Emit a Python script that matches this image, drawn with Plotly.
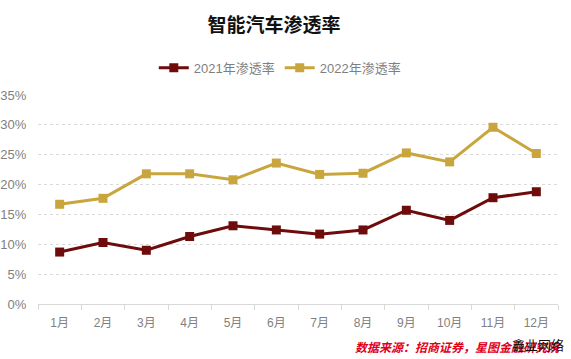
import plotly.graph_objects as go

months = ["1月", "2月", "3月", "4月", "5月", "6月", "7月", "8月", "9月", "10月", "11月", "12月"]
rate_2021 = [8.7, 10.3, 9.0, 11.3, 13.1, 12.4, 11.7, 12.4, 15.7, 14.0, 17.8, 18.8]
rate_2022 = [16.7, 17.7, 21.8, 21.8, 20.8, 23.6, 21.7, 21.9, 25.3, 23.8, 29.6, 25.2]
y_ticks = [0, 5, 10, 15, 20, 25, 30, 35]
y_labels = [f"{v}%" for v in y_ticks]

cjk = "Noto Sans CJK SC"
latin = "Liberation Sans, Noto Sans CJK SC"
fig = go.Figure()
fig.add_trace(go.Scatter(x=months, y=rate_2021, name="2021年渗透率", mode="lines+markers",
                         line=dict(color="#6E0B0B", width=3),
                         marker=dict(symbol="square", size=9, color="#6E0B0B")))
fig.add_trace(go.Scatter(x=months, y=rate_2022, name="2022年渗透率", mode="lines+markers",
                         line=dict(color="#C9A53E", width=3),
                         marker=dict(symbol="square", size=9, color="#C9A53E")))

fig.update_layout(
    width=571, height=359,
    margin=dict(l=38, r=13, t=95, b=55),
    paper_bgcolor="white", plot_bgcolor="white",
    font=dict(family=latin, color="#595959", size=12),
    title=dict(text="<b>智能汽车渗透率</b>", x=0.48, xanchor="center", y=0.93, yanchor="middle",
               font=dict(size=19, color="#111111", family=cjk)),
    legend=dict(orientation="h", x=0.465, xanchor="center", y=1.13, yanchor="middle",
                font=dict(size=13, color="#7F7F7F", family=latin), itemwidth=30),
    showlegend=True,
)
fig.update_xaxes(type="category", showgrid=False, showline=True, linecolor="#D9D9D9", linewidth=1,
                 ticks="outside", tickson="boundaries", ticklen=5, tickcolor="#D9D9D9",
                 tickfont=dict(size=12, color="#7F7F7F", family=latin), range=[-0.5, 11.5],
                 ticklabelstandoff=8, automargin=False)
fig.update_yaxes(range=[0, 35], tickvals=y_ticks, ticktext=y_labels, showgrid=True,
                 gridcolor="#D9D9D9", griddash="dot", zeroline=False, showline=False,
                 ticks="outside", ticklen=8, tickcolor="rgba(0,0,0,0)", automargin=False,
                 tickfont=dict(size=13, color="#7F7F7F", family=latin))

fig.add_annotation(text="<b><i>数据来源：招商证券，星图金融研究院</i></b>", xref="paper", yref="paper",
                   x=1.01, xanchor="right", y=-0.205, yanchor="middle", showarrow=False,
                   font=dict(size=12, color="#E0001B", family=cjk))
fig.add_annotation(text="鑫业网络", xref="paper", yref="paper",
                   x=1.015, xanchor="right", y=-0.195, yanchor="middle", showarrow=False,
                   font=dict(size=13, color="#111111", family=cjk))

fig.write_html("out.html", config={"displayModeBar": False},
               post_script="document.body.style.margin='0';")
